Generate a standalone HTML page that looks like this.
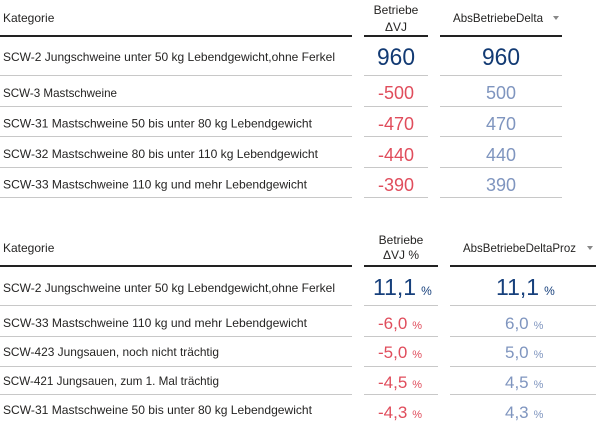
<!DOCTYPE html>
<html><head><meta charset="utf-8"><style>
html,body{margin:0;padding:0;background:#fff;}
svg{display:block;}
text{font-family:"Liberation Sans",Arial,sans-serif;}
</style></head><body>
<svg width="608" height="422" viewBox="0 0 608 422" xmlns="http://www.w3.org/2000/svg">
<!-- ============ TABLE 1 ============ -->
<g fill="#252423" font-size="12">
  <text x="3" y="22">Kategorie</text>
  <text x="396" y="14" text-anchor="middle">Betriebe</text>
  <text x="396" y="31" text-anchor="middle">ΔVJ</text>
  <text x="453" y="22" textLength="90" lengthAdjust="spacingAndGlyphs">AbsBetriebeDelta</text>
</g>
<path d="M553 16 L559 16 L556 20 Z" fill="#888"/>
<g fill="#222">
  <rect x="0" y="35" width="352" height="2"/>
  <rect x="364" y="35" width="64" height="2"/>
  <rect x="440" y="35" width="122" height="2"/>
</g>
<g fill="#c8c8c8">
  <rect x="0" y="75" width="352" height="1"/><rect x="364" y="75" width="64" height="1"/><rect x="440" y="75" width="122" height="1"/>
  <rect x="0" y="106" width="352" height="1"/><rect x="364" y="106" width="64" height="1"/><rect x="440" y="106" width="122" height="1"/>
  <rect x="0" y="136" width="352" height="1"/><rect x="364" y="136" width="64" height="1"/><rect x="440" y="136" width="122" height="1"/>
  <rect x="0" y="167" width="352" height="1"/><rect x="364" y="167" width="64" height="1"/><rect x="440" y="167" width="122" height="1"/>
  <rect x="0" y="197" width="352" height="1"/><rect x="364" y="197" width="64" height="1"/><rect x="440" y="197" width="122" height="1"/>
</g>
<g fill="#252423" font-size="12">
  <text x="3" y="61" textLength="332" lengthAdjust="spacingAndGlyphs">SCW-2 Jungschweine unter 50 kg Lebendgewicht,ohne Ferkel</text>
  <text x="3" y="97" textLength="114" lengthAdjust="spacingAndGlyphs">SCW-3 Mastschweine</text>
  <text x="3" y="127.5" textLength="309" lengthAdjust="spacingAndGlyphs">SCW-31 Mastschweine 50 bis unter 80 kg Lebendgewicht</text>
  <text x="3" y="158" textLength="315" lengthAdjust="spacingAndGlyphs">SCW-32 Mastschweine 80 bis unter 110 kg Lebendgewicht</text>
  <text x="3" y="188.5" textLength="304" lengthAdjust="spacingAndGlyphs">SCW-33 Mastschweine 110 kg und mehr Lebendgewicht</text>
</g>
<text x="396" y="65" text-anchor="middle" font-size="24" fill="#123a73" textLength="38" lengthAdjust="spacingAndGlyphs">960</text>
<text x="501" y="65" text-anchor="middle" font-size="24" fill="#123a73" textLength="38" lengthAdjust="spacingAndGlyphs">960</text>
<g font-size="18" text-anchor="middle" fill="#e04d5c">
  <text x="396" y="99">-500</text>
  <text x="396" y="130">-470</text>
  <text x="396" y="161">-440</text>
  <text x="396" y="191">-390</text>
</g>
<g font-size="18" text-anchor="middle" fill="#7f95bf">
  <text x="501" y="99">500</text>
  <text x="501" y="130">470</text>
  <text x="501" y="161">440</text>
  <text x="501" y="191">390</text>
</g>

<!-- ============ TABLE 2 ============ -->
<g fill="#252423" font-size="12">
  <text x="3" y="252">Kategorie</text>
  <text x="401" y="244" text-anchor="middle">Betriebe</text>
  <text x="401" y="259" text-anchor="middle">ΔVJ %</text>
  <text x="463" y="252" textLength="113" lengthAdjust="spacingAndGlyphs">AbsBetriebeDeltaProz</text>
</g>
<path d="M587 246 L593 246 L590 250 Z" fill="#888"/>
<g fill="#222">
  <rect x="0" y="265" width="352" height="2"/>
  <rect x="364" y="265" width="74" height="2"/>
  <rect x="450" y="265" width="146" height="2"/>
</g>
<g fill="#c8c8c8">
  <rect x="0" y="305" width="352" height="1"/><rect x="364" y="305" width="74" height="1"/><rect x="450" y="305" width="146" height="1"/>
  <rect x="0" y="336" width="352" height="1"/><rect x="364" y="336" width="74" height="1"/><rect x="450" y="336" width="146" height="1"/>
  <rect x="0" y="366" width="352" height="1"/><rect x="364" y="366" width="74" height="1"/><rect x="450" y="366" width="146" height="1"/>
  <rect x="0" y="394" width="352" height="1"/><rect x="364" y="394" width="74" height="1"/><rect x="450" y="394" width="146" height="1"/>
</g>
<g fill="#252423" font-size="12">
  <text x="3" y="292" textLength="332" lengthAdjust="spacingAndGlyphs">SCW-2 Jungschweine unter 50 kg Lebendgewicht,ohne Ferkel</text>
  <text x="3" y="327" textLength="304" lengthAdjust="spacingAndGlyphs">SCW-33 Mastschweine 110 kg und mehr Lebendgewicht</text>
  <text x="3" y="356" textLength="216" lengthAdjust="spacingAndGlyphs">SCW-423 Jungsauen, noch nicht trächtig</text>
  <text x="3" y="385" textLength="216" lengthAdjust="spacingAndGlyphs">SCW-421 Jungsauen, zum 1. Mal trächtig</text>
  <text x="3" y="414" textLength="309" lengthAdjust="spacingAndGlyphs">SCW-31 Mastschweine 50 bis unter 80 kg Lebendgewicht</text>
</g>
<!-- row 1 -->
<text x="373" y="295" font-size="23" fill="#17407c">11,1<tspan font-size="12" dx="5">%</tspan></text>
<text x="496" y="295" font-size="23" fill="#17407c">11,1<tspan font-size="12" dx="5">%</tspan></text>
<!-- col 2 red -->
<g fill="#e04d5c" font-size="17">
  <text x="378" y="329">-6,0<tspan font-size="11" dx="5">%</tspan></text>
  <text x="378" y="358">-5,0<tspan font-size="11" dx="5">%</tspan></text>
  <text x="378" y="388">-4,5<tspan font-size="11" dx="5">%</tspan></text>
  <text x="378" y="418">-4,3<tspan font-size="11" dx="5">%</tspan></text>
</g>
<!-- col 3 blue-grey -->
<g fill="#7f95bf" font-size="17">
  <text x="505" y="329">6,0<tspan font-size="11" dx="5">%</tspan></text>
  <text x="505" y="358">5,0<tspan font-size="11" dx="5">%</tspan></text>
  <text x="505" y="388">4,5<tspan font-size="11" dx="5">%</tspan></text>
  <text x="505" y="418">4,3<tspan font-size="11" dx="5">%</tspan></text>
</g>
</svg>
</body></html>
